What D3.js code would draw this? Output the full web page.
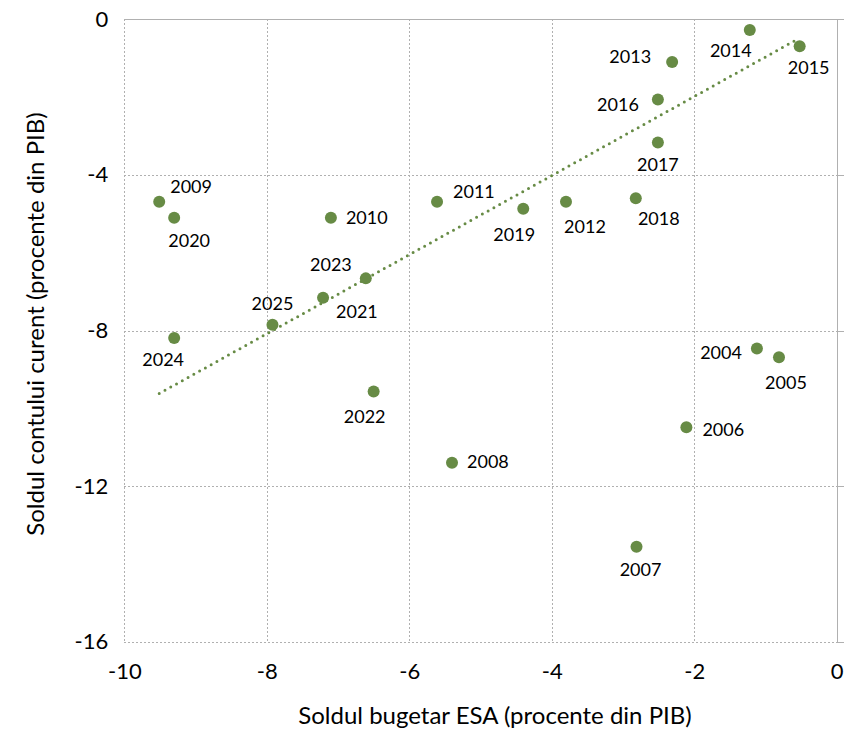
<!DOCTYPE html>
<html>
<head>
<meta charset="utf-8">
<script src="https://cdn.jsdelivr.net/npm/d3@7"></script>
<style>
  body { margin: 0; background: #fff; }
  svg { display: block; font-family: Lato, "Open Sans", sans-serif; }
</style>
</head>
<body>
<div id="chart"></div>
<script>
// data
const years = [2004, 2005, 2006, 2007, 2008, 2009, 2010, 2011, 2012, 2013, 2014,
               2015, 2016, 2017, 2018, 2019, 2020, 2021, 2022, 2023, 2024, 2025];
const budgetBalance = [-1.12, -0.81, -2.11, -2.81, -5.40, -9.51, -7.10, -5.61, -3.80, -2.31, -1.22,
                       -0.52, -2.51, -2.51, -2.82, -4.40, -9.30, -7.21, -6.50, -6.61, -9.30, -7.92];
const currentAccount = [-8.46, -8.69, -10.49, -13.56, -11.40, -4.69, -5.10, -4.69, -4.69, -1.10, -0.275,
                        -0.69, -2.06, -3.17, -4.60, -4.87, -5.10, -7.16, -9.57, -6.66, -8.19, -7.85];
// linear trend line (start / end)
const trendX = [-9.51, -0.52];
const trendY = [-9.62, -0.48];
const xTicks = [-10, -8, -6, -4, -2, 0];
const yTicks = [0, -4, -8, -12, -16];
const xTitle = 'Soldul bugetar ESA (procente din PIB)';
const yTitle = 'Soldul contului curent (procente din PIB)';

// label placement around each marker: anchor, dx, dy (px)
const labelPos = {
    2004: ['end', -15, 4], 2005: ['middle', 7, 25], 2006: ['start', 16, 2],
    2007: ['middle', 4, 23], 2008: ['start', 15, -1], 2009: ['start', 11, -15],
    2010: ['start', 15, 0], 2011: ['start', 16, -10], 2012: ['middle', 19, 25],
    2013: ['end', -21, -5], 2014: ['middle', -19, 21], 2015: ['middle', 9, 22],
    2016: ['end', -19, 5], 2017: ['middle', 0, 22], 2018: ['middle', 23, 20],
    2019: ['middle', -9, 26], 2020: ['middle', 15, 23], 2021: ['start', 13, 14],
    2022: ['middle', -9, 25], 2023: ['end', -14, -14], 2024: ['middle', -11, 22],
    2025: ['middle', 0, -21]
};

const W = 847, H = 730;
const margin = { top: 19.3, right: 10.3, bottom: 88.3, left: 124.3 };
const width = W - margin.left - margin.right;
const height = H - margin.top - margin.bottom;
const green = '#678b45';
const gridColor = '#b0b0b0';

const svg = d3.select('#chart').append('svg')
    .attr('width', W)
    .attr('height', H);

const g = svg.append('g')
    .attr('transform', 'translate(' + margin.left + ',' + margin.top + ')');

const x = d3.scaleLinear().domain([-10, 0]).range([0, width]);
const y = d3.scaleLinear().domain([-16, 0]).range([height, 0]);

// dotted grid
g.append('g')
    .attr('class', 'grid')
    .call(d3.axisBottom(x).tickValues(xTicks).tickSize(height).tickFormat(''))
    .call(a => a.select('.domain').remove());
g.append('g')
    .attr('class', 'grid')
    .call(d3.axisRight(y).tickValues(yTicks).tickSize(width).tickFormat(''))
    .call(a => a.select('.domain').remove());
g.selectAll('.grid line')
    .attr('stroke', gridColor)
    .attr('stroke-dasharray', '2,2')
    .attr('shape-rendering', 'crispEdges');

// solid axis lines at x = 0 (right) and y = 0 (top)
g.append('g')
    .attr('transform', 'translate(' + width + ',0)')
    .call(d3.axisRight(y).tickValues(yTicks).tickSize(7).tickFormat(''))
    .call(a => a.selectAll('path, line').attr('stroke', gridColor).attr('shape-rendering', 'crispEdges'));
g.append('g')
    .call(d3.axisTop(x).tickValues(xTicks).tickSize(0).tickFormat(''))
    .call(a => a.selectAll('path, line').attr('stroke', gridColor).attr('shape-rendering', 'crispEdges'));

// tick labels (plain hyphen as in the original)
const fmt = d => String(d);
g.append('g')
    .attr('transform', 'translate(0,' + height + ')')
    .call(d3.axisBottom(x).tickValues(xTicks).tickSize(0).tickPadding(22).tickFormat(fmt))
    .call(a => a.select('.domain').remove())
    .selectAll('text')
    .attr('font-family', 'Lato, sans-serif')
    .attr('font-size', 22)
    .attr('fill', '#000');
g.append('g')
    .call(d3.axisLeft(y).tickValues(yTicks).tickSize(0).tickPadding(16).tickFormat(fmt))
    .call(a => a.select('.domain').remove())
    .selectAll('text')
    .attr('font-family', 'Lato, sans-serif')
    .attr('font-size', 22)
    .attr('fill', '#000');

// axis titles
svg.append('text')
    .attr('x', 495)
    .attr('y', 724)
    .attr('text-anchor', 'middle')
    .attr('font-size', 24)
    .text(xTitle);
svg.append('text')
    .attr('transform', 'translate(44,' + 324 + ') rotate(-90)')
    .attr('text-anchor', 'middle')
    .attr('font-size', 24)
    .text(yTitle);

// trend line
g.append('line')
    .attr('x1', x(trendX[0])).attr('y1', y(trendY[0]))
    .attr('x2', x(trendX[1])).attr('y2', y(trendY[1]))
    .attr('stroke', green)
    .attr('stroke-width', 3)
    .attr('stroke-linecap', 'round')
    .attr('stroke-dasharray', '0,6.6');

// points
const points = years.map((yr, i) => ({ year: yr, bx: budgetBalance[i], cy: currentAccount[i] }));

g.selectAll('circle.pt')
    .data(points)
  .enter().append('circle')
    .attr('class', 'pt')
    .attr('cx', d => x(d.bx))
    .attr('cy', d => y(d.cy))
    .attr('r', 6)
    .attr('fill', green);

g.selectAll('text.lbl')
    .data(points)
  .enter().append('text')
    .attr('class', 'lbl')
    .attr('x', d => x(d.bx) + labelPos[d.year][1])
    .attr('y', d => y(d.cy) + labelPos[d.year][2])
    .attr('dy', '0.35em')
    .attr('text-anchor', d => labelPos[d.year][0])
    .attr('font-size', 18)
    .attr('fill', '#000')
    .text(d => d.year);
</script>
</body>
</html>
